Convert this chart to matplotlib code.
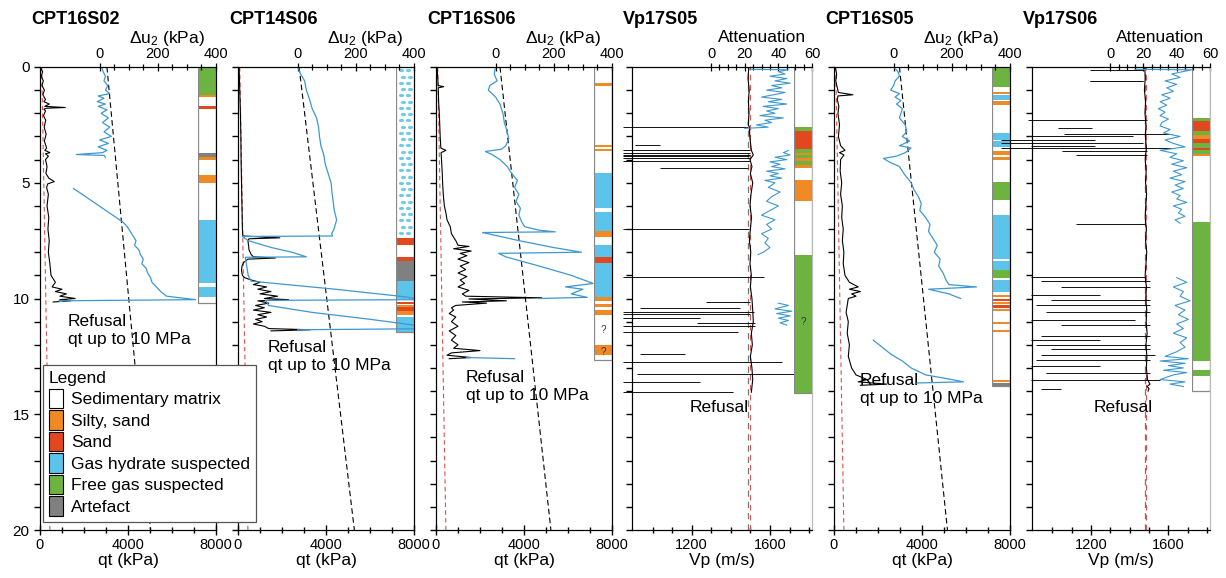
import numpy as np
import matplotlib
matplotlib.use("Agg")
import matplotlib.pyplot as plt
from matplotlib.patches import Patch, Rectangle
from matplotlib.ticker import FixedLocator, NullFormatter

plt.rcParams['font.family'] = ['Liberation Sans', 'DejaVu Sans']
plt.rcParams['mathtext.fontset'] = 'custom'
plt.rcParams['mathtext.rm'] = 'Liberation Sans'
plt.rcParams['mathtext.it'] = 'Liberation Sans:italic'

nan = np.nan

# ---------------- data ----------------
titles = ["CPT16S02", "CPT14S06", "CPT16S06", "Vp17S05", "CPT16S05", "Vp17S06"]

# CPT16S02
q1_z = [0, .2, .4, .6, .8, 1.0, 1.2, 1.4, 1.5, 1.6, 1.7, 1.75, 1.78, 1.82, 1.9, 2.1, 2.3, 2.6, 2.9, 3.2, 3.5, 3.6, 3.7,
        3.75, 3.85, 4.0, 4.3, 4.6, 4.8, 4.95, 5.05, 5.2, 5.5, 6.0, 6.5, 7.0, 7.5, 8.0, 8.5, 9.0, 9.3, 9.5, 9.6, 9.7,
        9.8, 9.9, 10.0, 10.05, 10.1, 10.15]
q1_v = [0, 120, 60, 150, 90, 200, 130, 250, 180, 420, 220, 1150, 300, 180, 250, 160, 260, 190, 280, 200, 300, 220, 450,
        250, 380, 250, 320, 270, 400, 650, 350, 300, 380, 320, 400, 360, 420, 380, 450, 500, 700, 550, 1000, 700,
        1200, 900, 1600, 900, 1400, 600]
u1_z = [0, .2, .4, .6, .8, 1.0, 1.15, 1.25, 1.35, 1.5, 1.6, 1.7, 1.85, 2.0, 2.2, 2.4, 2.6, 2.8, 3.0, 3.15, 3.3, 3.45,
        3.6, 3.7, 3.78, 3.82, 3.9, nan, 5.25, 5.5, 5.8, 6.1, 6.4, 6.7, 6.9, 7.1, 7.3, 7.5, 7.7, 7.9, 8.1, 8.3, 8.5,
        8.7, 8.9, 9.1, 9.3, 9.5, 9.7, 9.9, 10.05, 10.1, 10.12]
u1_v = [7, 12, 20, 15, 28, 20, 35, -5, 15, -8, 20, -5, 25, 5, 30, 10, 35, 15, 40, 0, 30, -5, 25, 10, -80, 15, 20, nan,
        -90, -60, -25, 10, 45, 80, 95, 105, 115, 125, 120, 135, 140, 150, 145, 160, 165, 175, 180, 195, 210, 230,
        330, -140, -130]

# CPT14S06
q2_z = [0, 1, 2, 3, 4, 5, 6, 7, 7.3, 7.38, 7.42, 7.5, 7.7, 7.9, 8.1, 8.2, 8.25, 8.3, 8.45, 8.6, 8.8, 9.0, 9.1, 9.2,
        9.3, 9.4, 9.5, 9.6, 9.7, 9.8, 9.9, 10.0, 10.05, 10.1, 10.2, 10.3, 10.4, 10.5, 10.6, 10.7, 10.8, 10.9, 11.0,
        11.1, 11.2, 11.3, 11.35, 11.4]
q2_v = [50, 80, 110, 130, 140, 160, 180, 200, 220, 1900, 500, 450, 480, 500, 600, 700, 1700, 450, 250, 180, 160, 200,
        300, 600, 1000, 700, 1300, 900, 1500, 1000, 1800, 1200, 2300, 900, 1400, 800, 1200, 700, 1500, 900, 1300,
        800, 1100, 700, 1200, 1400, 3300, 1500]
u2_z = [0, .3, .6, 1.0, 1.4, 1.8, 2.2, 2.6, 3.0, 3.4, 3.8, 4.2, 4.6, 5.0, 5.4, 5.8, 6.2, 6.6, 7.0, 7.2, 7.3, 7.32,
        7.5, 7.8, 8.0, 8.2, 8.22, 8.6, 9.0, 9.25, 9.6, 9.9, 10.05, 10.08, 10.3, 10.6, 10.9, 11.2, 11.3, 11.35]
u2_v = [0, 10, 24, 30, 41, 50, 65, 72, 75, 80, 90, 95, 105, 115, 118, 122, 126, 134, 125, 117, 120, -190, -170, -90,
        -20, 30, -180, -175, -170, -160, 130, 350, 430, -110, -100, 50, 250, 430, 490, 0]

# CPT16S06
q3_z = [0, .5, .8, .85, .9, 1.5, 2.0, 2.5, 3.0, 3.5, 3.6, 3.7, 4.0, 4.5, 5.0, 5.5, 6.0, 6.3, 6.6, 6.9, 7.2, 7.5, 7.7,
        7.75, 7.85, 7.95, 8.05, 8.15, 8.3, 8.45, 8.6, 8.75, 8.9, 9.05, 9.2, 9.35, 9.5, 9.65, 9.8, 9.9, 9.97, 10.02,
        10.1, 10.15, 10.2, 10.3, 10.4, 10.5, 10.65, 10.8, 11.0, 11.2, 11.4, 11.6, 11.8, 12.0, 12.15, 12.25, 12.35,
        12.45, 12.55, 12.6]
q3_v = [50, 80, 100, 350, 100, 120, 150, 170, 190, 220, 450, 230, 250, 280, 300, 330, 380, 450, 500, 650, 700, 900,
        1000, 1500, 800, 1600, 1100, 1400, 1000, 1500, 1100, 1350, 1000, 1400, 1100, 1300, 1000, 1500, 1200, 1350,
        4800, 1500, 3200, 1200, 2300, 900, 700, 800, 600, 900, 700, 1000, 600, 900, 700, 1000, 800, 2000, 700, 500,
        1600, 600]
u3_z = [0, .3, .6, .8, 1.0, 1.3, 1.6, 2.0, 2.4, 2.8, 3.1, 3.4, 3.55, 3.65, 3.8, 4.0, 4.3, 4.6, 4.9, 5.2, 5.5, 5.8,
        6.1, 6.4, 6.7, 6.9, 7.05, 7.12, 7.15, 7.5, 7.8, 8.0, 8.05, 8.2, 8.6, 9.0, 9.35, 9.5, 9.6, 9.8, 9.95, 10.0,
        nan, 12.55, 12.6]
u3_v = [0, -5, 5, -20, -25, 0, 15, 25, 30, 40, 45, 35, 20, -35, -10, 15, 40, 55, 75, 65, 80, 70, 85, 80, 90, 100,
        150, 205, -45, 80, 200, 295, 10, 35, 150, 260, 335, 240, 300, 260, 315, 150, nan, -100, 65]

# CPT16S05
q5_z = [0, .3, .6, .9, 1.1, 1.2, 1.25, 1.4, 1.7, 2.0, 2.5, 3.0, 3.4, 3.6, 3.7, 3.8, 4.0, 4.5, 5.0, 5.5, 6.0, 6.5,
        7.0, 7.5, 8.0, 8.5, 9.0, 9.3, 9.5, 9.6, 9.7, 9.8, 9.9, 10.0, 10.3, 10.6, 11.0, 11.5, 12.0, 12.5, 13.0, 13.3,
        13.5, 13.6, 13.7, 13.75]
q5_v = [50, 120, 80, 150, 200, 860, 180, 150, 220, 180, 250, 200, 300, 500, 250, 450, 300, 280, 350, 300, 380, 350,
        420, 380, 450, 420, 500, 700, 1100, 700, 1200, 800, 1000, 650, 600, 550, 650, 600, 700, 650, 800, 1000,
        1500, 1100, 2400, 1200]
u5_z = [0, .2, .4, .6, .8, 1.0, 1.15, 1.3, 1.45, 1.6, 1.8, 2.0, 2.2, 2.5, 2.8, 3.0, 3.2, 3.4, 3.5, 3.7, 3.85, 3.95,
        4.1, 4.3, 4.6, 5.0, 5.3, 5.6, 5.9, 6.2, 6.5, 6.8, 7.1, 7.4, 7.7, 8.0, 8.3, 8.6, 8.9, 9.2, 9.4, 9.5, 9.6,
        9.8, 10.0, nan, 11.8, 12.1, 12.4, 12.7, 13.0, 13.3, 13.5, 13.6, 13.65]
u5_v = [0, 15, 20, 5, 0, -10, 20, 5, 25, 10, 30, 25, 20, 40, 45, 30, 55, 20, 60, 40, 10, -35, -15, 20, 35, 60, 70,
        85, 95, 90, 110, 125, 120, 135, 150, 140, 160, 155, 170, 180, 190, 285, 120, 190, 230, nan, -70, -40, -10,
        30, 60, 110, 200, 240, 80]

# hydrostatic (du2 axis) and vertical stress (qt axis) reference lines: value at 0 m and 20 m
u0_top = [25, 5, 15, 20]
u0_bot = [175, 195, 190, 185]
sv_top = 80
sv_bot = 450

# Vp17S05
vp4_z = [0, .5, 1, 1.5, 2, 2.5, 2.6, 3.0, 3.6, 3.8, 4.0, 4.3, 4.6, 5.0, 5.5, 6.0, 6.5, 7.0, 7.5, 8.0, 8.5, 9.0,
         9.5, 10, 10.5, 11, 11.5, 12, 12.5, 13, 13.5, 14.05]
vp4_v = [1492, 1488, 1494, 1490, 1493, 1489, 1495, 1497, 1505, 1515, 1498, 1508, 1500, 1512, 1503, 1498, 1506, 1500,
         1495, 1502, 1498, 1505, 1500, 1508, 1512, 1515, 1505, 1510, 1500, 1508, 1512, 1505]
sp4_z = [2.6, 3.35, 3.6, 3.72, 3.78, 3.85, 3.95, 4.05, 4.35, 7.0, 9.07, 10.15, 10.4, 10.6, 10.65, 10.85, 11.05,
         11.2, 11.45, 12.4, 12.75, 13.25, 13.6, 14.05]
sp4_lo = [850, 910, 850, 850, 850, 850, 850, 850, 1040, 850, 850, 1275, 936, 850, 850, 850, 1227, 850, 850, 936,
          850, 920, 850, 850]
sp4_hi = [1490, 1040, 1500, 1500, 1500, 1495, 1500, 1500, 1490, 1495, 1570, 1500, 1447, 1520, 1500, 1240, 1523,
          1523, 1436, 1166, 1660, 1730, 1240, 1410]
a4_z = [0.1, 0.12, 0.2, 0.3, 0.4, 0.5, 0.6, 0.7, 0.8, 0.9, 1.0, 1.1, 1.2, 1.3, 1.4, 1.5, 1.6, 1.7, 1.8, 1.9, 2.0,
        2.1, 2.2, 2.3, 2.4, 2.5, 2.6, 2.65, nan, 3.6, 3.7, 3.8, 3.9, 4.0, 4.1, 4.2, 4.3, 4.4, 4.5, 4.6, 4.7, 4.8,
        4.9, 5.0, 5.2, 5.4, 5.6, 5.8, 6.0, 6.2, 6.4, 6.6, 6.8, 7.0, 7.2, 7.4, 7.6, 7.8, 8.0, 8.1, nan, 10.2, 10.3,
        10.45, 10.55, 10.65, 10.75, 10.85, 10.95, 11.05, 11.15]
a4_v = [23, 46, 40, 44, 35, 45, 38, 47, 36, 42, 33, 44, 37, 30, 42, 34, 45, 31, 40, 33, 38, 29, 43, 32, 36, 27, 34,
        20, nan, 46, 43, 47, 38, 45, 35, 41, 36, 44, 33, 40, 35, 42, 32, 38, 34, 41, 36, 33, 40, 35, 30, 38, 33, 36,
        30, 34, 32, 35, 31, 28, nan, 40, 46, 38, 48, 39, 47, 40, 46, 41, 45]

# Vp17S06
vp6_z = [0, 0.5, 1, 1.5, 2, 2.5, 3, 3.5, 4, 4.5, 5, 5.5, 6, 6.5, 7, 7.5, 8, 8.5, 9, 9.5, 10, 10.5, 11, 11.5, 12,
         12.5, 13, 13.5, 13.7, 13.8, 13.9, 14.0]
vp6_v = [1478, 1480, 1476, 1482, 1479, 1484, 1481, 1486, 1480, 1485, 1482, 1487, 1483, 1480, 1486, 1482, 1488, 1484,
         1480, 1486, 1483, 1488, 1485, 1490, 1484, 1489, 1486, 1492, 1505, 1490, 1500, 1495]
sp6_z = [0.13, 0.6, 0.62, 2.3, 2.63, 2.9, 3.0, 3.15, 3.3, 3.4, 3.5, 3.65, 3.8, 6.8, 9.07, 9.25, 9.5, 9.85, 10.05,
         10.3, 10.6, 10.95, 11.15, 11.6, 11.8, 12.0, 12.2, 12.45, 12.65, 12.9, 13.2, 13.5, 13.9]
sp6_lo = [1196, 1196, 1196, 875, 1028, 1060, 875, 736, 736, 890, 736, 1050, 1120, 1120, 890, 941, 1043, 890, 992,
          915, 966, 890, 1043, 941, 890, 915, 992, 941, 915, 890, 966, 890, 941]
sp6_hi = [1467, 1467, 1467, 1488, 1207, 1620, 1416, 1222, 1467, 1222, 1620, 1488, 1488, 1477, 1477, 1503, 1503,
          1247, 1503, 1503, 1503, 1426, 1503, 1503, 1247, 1503, 1503, 1529, 1503, 1247, 1503, 1554, 1043]
a6_z = [0.1, 0.12, 0.3, 0.45, 0.6, 0.75, 0.9, 1.05, 1.2, 1.35, 1.5, 1.65, 1.8, 1.95, 2.1, 2.25, 2.4, 2.55, 2.7,
        2.85, 3.0, 3.15, 3.3, 3.45, 3.6, 3.75, 3.9, 4.05, 4.2, 4.35, 4.5, 4.65, 4.8, 4.95, 5.1, 5.25, 5.4, 5.55,
        5.7, 5.85, 6.0, 6.15, 6.3, 6.45, 6.6, 6.75, nan, 9.1, 9.3, 9.5, 9.7, 9.9, 10.1, 10.3, 10.5, 10.7, 10.9,
        11.1, 11.3, 11.5, 11.7, 11.9, 12.1, 12.3, 12.5, 12.6, 12.7, 12.8, 12.9, 13.0, 13.1, 13.2, 13.3, 13.5, 13.6,
        13.7, 13.8]
a6_v = [15, 49, 37, 42, 33, 40, 34, 38, 31, 36, 30, 34, 29, 33, 30, 35, 31, 30, 36, 32, 42, 33, 38, 45, 30, 40, 36,
        44, 37, 46, 38, 43, 36, 45, 39, 44, 37, 42, 40, 46, 38, 43, 41, 45, 39, 42, nan, 40, 46, 38, 44, 42, 48, 39,
        45, 41, 47, 40, 44, 38, 46, 42, 45, 40, 33, 47, 30, 45, 35, 44, 32, 46, 38, 30, 45, 36, 44]
vp_ref = [1488, 1478]      # grey dashed reference velocity
vp_red = [1500, 1484]      # red dashed reference

# Lithology columns (non-white intervals) and column bottoms
lith1_top = [0, 1.2, 1.7, 3.7, 3.87, 4.65, 6.6, 9.5]
lith1_bot = [1.2, 1.3, 1.82, 3.87, 4.0, 5.0, 9.35, 9.95]
lith1_typ = ['G', 'O', 'R', 'K', 'O', 'O', 'B', 'B']
lith2_top = [0, 7.38, 8.19, 8.38, 9.23, 10.14, 10.3, 10.37, 10.53, 10.8]
lith2_bot = [7.28, 7.68, 8.38, 9.23, 10.03, 10.24, 10.37, 10.53, 10.71, 11.45]
lith2_typ = ['P', 'R', 'R', 'K', 'B', 'R', 'O', 'R', 'O', 'B']
lith3_top = [0.7, 3.35, 3.53, 4.6, 6.25, 7.1, 7.7, 8.2, 8.45, 9.93, 10.22, 10.48, 12.0]
lith3_bot = [0.82, 3.47, 3.65, 6.1, 7.1, 7.33, 8.2, 8.45, 9.93, 10.1, 10.35, 10.7, 12.45]
lith3_typ = ['O', 'O', 'O', 'B', 'B', 'O', 'B', 'R', 'B', 'O', 'O', 'O', 'O']
lith4_top = [2.6, 2.76, 3.55, 3.7, 3.8, 3.95, 4.08, 4.22, 4.9, 8.1]
lith4_bot = [2.76, 3.55, 3.7, 3.8, 3.95, 4.08, 4.22, 4.35, 5.8, 14.1]
lith4_typ = ['G', 'R', 'G', 'O', 'G', 'O', 'G', 'O', 'O', 'G']
lith5_top = [0, 1.08, 1.2, 1.47, 2.85, 3.2, 3.63, 3.9, 4.97, 6.4, 8.4, 8.75, 9.2, 9.85, 10.0, 10.15, 10.3, 10.45,
             11.0, 11.35, 13.5, 13.65]
lith5_bot = [0.85, 1.17, 1.43, 1.64, 3.15, 3.45, 3.8, 4.0, 5.75, 8.3, 8.75, 9.1, 9.7, 9.95, 10.1, 10.25, 10.4,
             10.55, 11.1, 11.45, 13.6, 13.8]
lith5_typ = ['G', 'O', 'B', 'O', 'B', 'B', 'O', 'O', 'G', 'B', 'B', 'G', 'B', 'O', 'R', 'O', 'R', 'O', 'O', 'O',
             'O', 'K']
lith6_top = [2.2, 2.35, 2.75, 2.95, 3.1, 3.3, 3.5, 3.6, 3.75, 6.7, 13.1]
lith6_bot = [2.35, 2.75, 2.95, 3.1, 3.3, 3.5, 3.6, 3.75, 3.85, 12.7, 13.35]
lith6_typ = ['G', 'R', 'G', 'O', 'R', 'G', 'R', 'G', 'O', 'G', 'G']
col_bottom = [10.2, 11.45, 12.65, 14.1, 13.8, 14.0]
qmark_depth = [[], [], [11.36, 12.3], [11.0], [], []]

legend_labels = ["Sedimentary matrix", "Silty, sand", "Sand", "Gas hydrate suspected", "Free gas suspected",
                 "Artefact"]
legend_types = ['W', 'O', 'R', 'B', 'G', 'K']

# ---------------- style ----------------
COL = {'W': 'white', 'O': '#f08a24', 'R': '#e2481e', 'B': '#5cc3ea', 'G': '#6db33f', 'K': '#808080',
       'P': 'white'}
BLUE = '#3f97cf'
W_PX, H_PX = 1226, 578
TOP_PX, BOT_PX = 67, 530
panel_px = [(40, 216), (238, 414), (436, 612), (632, 812), (834, 1010), (1032, 1210)]
kinds = ['cpt', 'cpt', 'cpt', 'vp', 'cpt', 'vp']

fig = plt.figure(figsize=(W_PX / 100, H_PX / 100), dpi=100)

cpt_data = {0: (q1_z, q1_v, u1_z, u1_v), 1: (q2_z, q2_v, u2_z, u2_v), 2: (q3_z, q3_v, u3_z, u3_v),
            4: (q5_z, q5_v, u5_z, u5_v)}
vp_data = {3: (vp4_z, vp4_v, sp4_z, sp4_lo, sp4_hi, a4_z, a4_v),
           5: (vp6_z, vp6_v, sp6_z, sp6_lo, sp6_hi, a6_z, a6_v)}
liths = [(lith1_top, lith1_bot, lith1_typ), (lith2_top, lith2_bot, lith2_typ), (lith3_top, lith3_bot, lith3_typ),
         (lith4_top, lith4_bot, lith4_typ), (lith5_top, lith5_bot, lith5_typ), (lith6_top, lith6_bot, lith6_typ)]
refusal = {0: (1270, 10.65, "Refusal\nqt up to 10 MPa"), 1: (1360, 11.8, "Refusal\nqt up to 10 MPa"),
           2: (1360, 13.1, "Refusal\nqt up to 10 MPa"), 3: (1191, 14.4, "Refusal"),
           4: (1180, 13.2, "Refusal\nqt up to 10 MPa"), 5: (1212, 14.4, "Refusal")}

u0_idx = {0: 0, 1: 1, 2: 2, 4: 3}
vp_idx = {3: 0, 5: 1}

ell = [(1.6 * np.cos(t), np.sin(t)) for t in np.linspace(0, 2 * np.pi, 25)]

for i, (l, r) in enumerate(panel_px):
    ax = fig.add_axes([l / W_PX, 1 - BOT_PX / H_PX, (r - l) / W_PX, (BOT_PX - TOP_PX) / H_PX])
    ax.set_ylim(20, 0)
    ax2 = ax.twiny()
    ax2.set_ylim(20, 0)
    if kinds[i] == 'cpt':
        qz, qv, uz, uv = cpt_data[i]
        ax.set_xlim(0, 8000)
        ax2.set_xlim(-205, 400)
        ax.plot(qv, qz, color='black', lw=0.8, zorder=3)
        ax.plot([sv_top, sv_bot], [0, 20], color='#d9534f', lw=0.8, ls=(0, (4, 3)), zorder=2)
        k = u0_idx[i]
        ax2.plot([u0_top[k], u0_bot[k]], [0, 20], color='black', lw=0.8, ls=(0, (5, 3)))
        ax2.plot(uv, uz, color=BLUE, lw=0.9)
        ax.xaxis.set_major_locator(FixedLocator([0, 4000, 8000]))
        ax.xaxis.set_minor_locator(FixedLocator([1000, 2000, 3000, 5000, 6000, 7000]))
        ax.set_xlabel("qt (kPa)", fontsize=12.5, labelpad=1)
        ax2.xaxis.set_major_locator(FixedLocator([0, 200, 400]))
        ax2.xaxis.set_minor_locator(FixedLocator([50, 100, 150, 250, 300, 350]))
        toplab = r"$\Delta\mathrm{u}_2$ (kPa)"
        for sp in ax.spines.values():
            sp.set_color('black')
    else:
        vz, vv, sz, slo, shi, az, av = vp_data[i]
        ax.set_xlim(895, 1815)
        ax2.set_xlim(-47, 60)
        k = vp_idx[i]
        ax.axvline(vp_ref[k], color='#777777', lw=0.9, ls=(0, (5, 4)), zorder=2)
        ax.axvline(vp_red[k], color='#d9534f', lw=0.8, ls=(0, (5, 4)), zorder=2)
        ax.hlines(sz, slo, shi, color='#111111', lw=0.7, clip_on=False, zorder=3)
        ax.plot(vv, vz, color='black', lw=0.8, zorder=3)
        ax2.plot(av, az, color=BLUE, lw=0.8)
        ax.xaxis.set_major_locator(FixedLocator([1200, 1600]))
        ax.xaxis.set_minor_locator(FixedLocator([1000, 1100, 1300, 1400, 1500, 1700, 1800]))
        ax.set_xlabel("Vp (m/s)", fontsize=12.5, labelpad=1)
        ax2.xaxis.set_major_locator(FixedLocator([0, 20, 40, 60]))
        ax2.xaxis.set_minor_locator(FixedLocator(list(range(5, 60, 5))))
        toplab = "Attenuation"
        for sp in ['left', 'top', 'bottom']:
            ax.spines[sp].set_color('black')
        ax.spines['right'].set_color('#bbbbbb')
        ax2.spines['right'].set_color('#bbbbbb')

    # lithology column
    axc = ax.inset_axes([0.9, 0, 0.1, 1])
    axc.set_xlim(0, 1)
    axc.set_ylim(20, 0)
    axc.axis('off')
    tops, bots, typs = liths[i]
    for t, b, ty in zip(tops, bots, typs):
        axc.bar(0.5, b - t, bottom=t, width=1, color=COL[ty], linewidth=0)
        if ty == 'P':
            rows = np.arange(t + 0.15, b, 0.27)
            for j, yy in enumerate(rows):
                off = 0.06 if j % 2 else -0.06
                axc.scatter([0.3 + off, 0.72 + off], [yy, yy], marker=ell, s=14, color='#6fcbea',
                            linewidths=0)
    axc.add_patch(Rectangle((0, 0), 1, col_bottom[i], fill=False, edgecolor='#888888', lw=0.9))
    for qd in qmark_depth[i]:
        axc.text(0.5, qd, "?", ha='center', va='center', fontsize=7, color='#333333')

    # refusal text
    rx, ry, rt = refusal[i]
    ax.text(rx, ry, rt, fontsize=12.5, va='top', ha='left', linespacing=1.25, zorder=6)

    # depth axis
    ax.yaxis.set_major_locator(FixedLocator([0, 5, 10, 15, 20]))
    ax.yaxis.set_minor_locator(FixedLocator([d for d in range(1, 20) if d % 5]))
    ax.tick_params(axis='y', which='both', direction='out', length=4, width=1, labelsize=11)
    if i > 0:
        ax.yaxis.set_major_formatter(NullFormatter())
    ax.tick_params(axis='x', which='major', direction='inout', length=7, width=1, labelsize=10.5, pad=2)
    ax.tick_params(axis='x', which='minor', direction='inout', length=5, width=1)
    ax2.tick_params(axis='x', which='major', direction='inout', length=6, width=0.9, labelsize=10.5, pad=1)
    ax2.tick_params(axis='x', which='minor', direction='inout', length=4, width=0.9)
    ax2.tick_params(axis='y', which='both', length=0)
    ax.text(0.72, 1 + (TOP_PX - 38) / (BOT_PX - TOP_PX), toplab, transform=ax.transAxes, ha='center',
            va='center', fontsize=12.5)
    fig.text((l - 9) / W_PX, 1 - 20 / H_PX, titles[i], fontsize=13, fontweight='bold', ha='left', va='center')

handles = [Patch(facecolor=COL[t], edgecolor='black', linewidth=0.8) for t in legend_types]
leg = fig.legend(handles, legend_labels, title="Legend", loc='lower left',
                 bbox_to_anchor=(43 / W_PX, 1 - 522 / H_PX), bbox_transform=fig.transFigure,
                 fontsize=12.5, title_fontsize=12.5, frameon=True, fancybox=False, edgecolor='#555555',
                 framealpha=1, handlelength=0.8, handleheight=1.35, handletextpad=0.45, labelspacing=0.12,
                 borderpad=0.35, borderaxespad=0, alignment='left')
leg.get_frame().set_linewidth(0.9)

fig.savefig("out.png", dpi=100)
